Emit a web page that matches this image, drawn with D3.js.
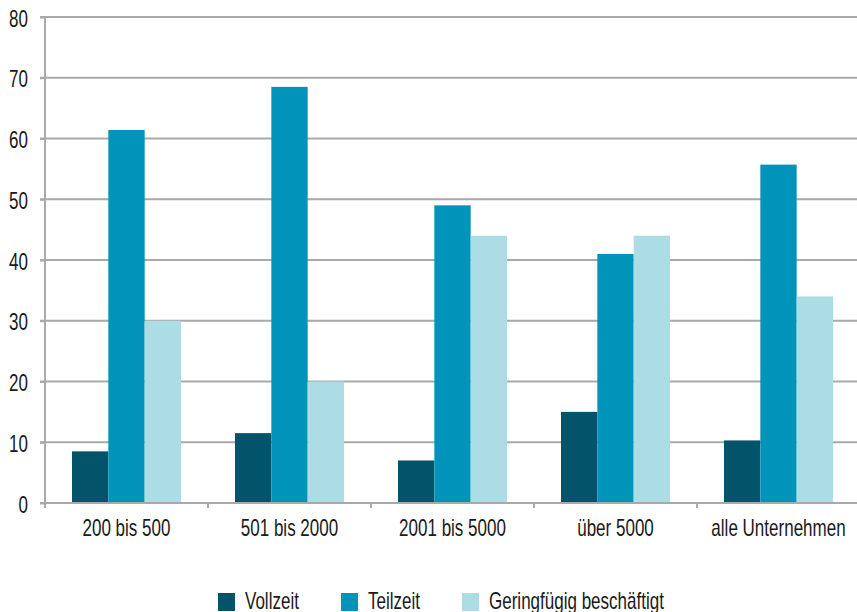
<!DOCTYPE html>
<html>
<head>
<meta charset="utf-8">
<script src="https://cdn.jsdelivr.net/npm/d3@7"></script>
<style>
  html, body { margin: 0; padding: 0; background: #fff; }
  svg { display: block; }
  text { font-family: "Liberation Sans", Arial, sans-serif; fill: #1a1a1a; }
</style>
</head>
<body>
<svg id="chart" width="857" height="612"></svg>
<script>
// Unternehmensgröße (Beschäftigte) und Anteil je Beschäftigungsform in %
const categories = ["200 bis 500", "501 bis 2000", "2001 bis 5000", "über 5000", "alle Unternehmen"];
const seriesNames = ["Vollzeit", "Teilzeit", "Geringfügig beschäftigt"];
const vollzeit = [8.5, 11.5, 7, 15, 10.3];
const teilzeit = [61.4, 68.5, 49, 41, 55.7];
const geringfuegig = [30, 20, 44, 44, 34];
const yTicks = [0, 10, 20, 30, 40, 50, 60, 70, 80];
const colors = ["#03536b", "#0094ba", "#acdde4"];

const seriesValues = [vollzeit, teilzeit, geringfuegig];
const rows = categories.map((c, i) => ({
  category: c,
  values: seriesNames.map((s, j) => ({ series: s, value: seriesValues[j][i] }))
}));

const svg = d3.select("#chart");
const plotLeft = 45, plotRight = 860, plotTop = 17, plotBottom = 503;
const narrow = 0.74;           // horizontal squeeze for a condensed look
const fontSize = 23;
const fontStyle = "\"Liberation Sans\", Arial, sans-serif";
const gridColor = "#a9a9a9";

const x = d3.scaleBand().domain(categories).range([plotLeft, plotRight]).paddingInner(0).paddingOuter(0);
const inner = d3.scaleBand().domain(seriesNames).range([27, x.bandwidth() - 27]).padding(0);
const y = d3.scaleLinear().domain([0, 80]).range([plotBottom, plotTop]);

// Horizontal gridlines
svg.append("g")
  .selectAll("line")
  .data(yTicks.filter(t => t > 0))
  .join("line")
  .attr("x1", plotLeft - 5).attr("x2", 857)
  .attr("y1", d => y(d)).attr("y2", d => y(d))
  .attr("stroke", gridColor).attr("stroke-width", 2);

// Bars
const groups = svg.append("g")
  .selectAll("g")
  .data(rows)
  .join("g")
  .attr("transform", d => `translate(${x(d.category)},0)`);

groups.selectAll("rect")
  .data(d => d.values)
  .join("rect")
  .attr("x", d => inner(d.series))
  .attr("width", inner.bandwidth())
  .attr("y", d => y(d.value))
  .attr("height", d => y(0) - y(d.value))
  .attr("fill", (d, i) => colors[i]);

// Y axis
const yAxis = svg.append("g")
  .attr("transform", `translate(${plotLeft},0)`)
  .call(d3.axisLeft(y).tickValues(yTicks).tickSize(5).tickPadding(8).tickFormat(d3.format("d")));
yAxis.select(".domain").attr("stroke", gridColor).attr("stroke-width", 2)
  .attr("d", `M0,${plotTop}V${plotBottom + 5}`);
yAxis.selectAll(".tick line").attr("stroke", gridColor).attr("stroke-width", 2);
yAxis.selectAll(".tick text")
  .attr("font-size", fontSize).attr("fill", "#1a1a1a")
  .style("font-family", fontStyle)
  .attr("x", -17 / narrow).attr("dy", null).attr("y", 9)
  .attr("transform", `scale(${narrow},1)`);

// X axis
const xAxis = svg.append("g")
  .attr("transform", `translate(0,${plotBottom})`)
  .call(d3.axisBottom(x).tickSize(0).tickPadding(20));
xAxis.select(".domain").attr("stroke", gridColor).attr("stroke-width", 2)
  .attr("d", `M${plotLeft - 5},0H857`);
xAxis.selectAll(".tick text")
  .attr("font-size", fontSize).attr("fill", "#1a1a1a")
  .style("font-family", fontStyle)
  .attr("dy", null).attr("y", 33.5)
  .attr("transform", `scale(${narrow},1)`);

// Category boundary ticks
svg.append("g")
  .selectAll("line")
  .data(categories.slice(1))
  .join("line")
  .attr("x1", d => x(d)).attr("x2", d => x(d))
  .attr("y1", plotBottom).attr("y2", plotBottom + 5)
  .attr("stroke", gridColor).attr("stroke-width", 2);

// Legend
const legendX = [218, 341, 462];
const legend = svg.append("g")
  .selectAll("g")
  .data(seriesNames)
  .join("g")
  .attr("transform", (d, i) => `translate(${legendX[i]},593)`);
legend.append("rect").attr("width", 17).attr("height", 18).attr("fill", (d, i) => colors[i]);
legend.append("text")
  .attr("transform", `translate(27,16) scale(${narrow},1)`)
  .attr("font-size", fontSize).text(d => d);
</script>
</body>
</html>
